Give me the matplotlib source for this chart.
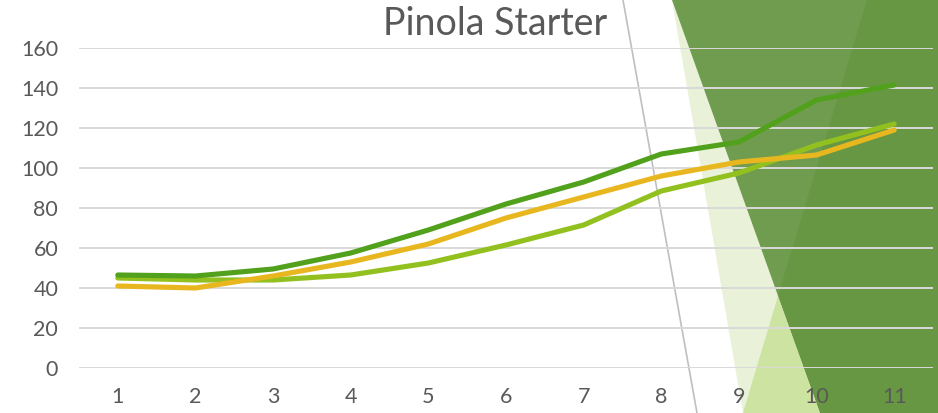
import matplotlib
matplotlib.use("Agg")
import matplotlib.pyplot as plt
from matplotlib.patches import Polygon
from matplotlib.lines import Line2D

# weekly readings for the three starter batches
weeks = [1, 2, 3, 4, 5, 6, 7, 8, 9, 10, 11]
batch_dark = [46.5, 46, 49.5, 57.5, 69, 82, 93, 107, 113, 134, 141.5]
batch_gold = [41, 40, 46, 53, 62, 75, 85.5, 96, 103, 106.5, 119]
batch_light = [45, 44, 44, 46.5, 52.5, 61.5, 71.5, 88.5, 97.5, 111.5, 122]
y_ticks = [0, 20, 40, 60, 80, 100, 120, 140, 160]

W, H = 938, 413
FONT = ["Lato", "DejaVu Sans"]
GREY = "#595959"

fig = plt.figure(figsize=(W / 100, H / 100), dpi=100)

# decorative backdrop, in pixel space
bg = fig.add_axes([0, 0, 1, 1], zorder=0)
bg.set_xlim(0, W)
bg.set_ylim(H, 0)
bg.axis("off")
bg.add_line(Line2D([623, 697], [0, H], color="#BFBFBF", lw=1.2))
bg.add_patch(Polygon([(672, 0), (743, H), (820, H)], closed=True,
                     facecolor="#E9F2D8", edgecolor="none"))
bg.add_patch(Polygon([(672, 0), (W, 0), (W, H), (820, H)], closed=True,
                     facecolor="#709C50", edgecolor="none"))
bg.add_patch(Polygon([(867, 0), (W, 0), (W, H), (820, H), (778, 296)], closed=True,
                     facecolor="#679742", edgecolor="none"))
bg.add_patch(Polygon([(778, 296), (820, H), (743, H)], closed=True,
                     facecolor="#CDE3A1", edgecolor="none"))

ax = fig.add_axes([79 / W, (H - 368) / H, 854 / W, 320 / H], zorder=1)
ax.patch.set_alpha(0)

for yv in y_ticks:
    ax.axhline(yv, color="#D9D9D9", lw=1.4, zorder=1)

ax.plot(weeks, batch_light, color="#92C01F", lw=3.7, solid_capstyle="round", zorder=3)
ax.plot(weeks, batch_gold, color="#E8B71F", lw=3.7, solid_capstyle="round", zorder=4)
ax.plot(weeks, batch_dark, color="#52A11C", lw=3.7, solid_capstyle="round", zorder=5)

ax.set_xlim(0.5, 11.5)
ax.set_ylim(0, 160)
ax.set_xticks(weeks)
ax.set_xticklabels([str(w) for w in weeks])
ax.set_yticks(y_ticks)
ax.set_yticklabels([str(v) for v in y_ticks])
ax.tick_params(length=0, colors=GREY, labelsize=15.5)
ax.tick_params(axis="x", pad=14)
ax.tick_params(axis="y", pad=15)
for lab in ax.get_xticklabels() + ax.get_yticklabels():
    lab.set_family(FONT)
for s in ax.spines.values():
    s.set_visible(False)

fig.text(495 / W, 1 - 24 / H, "Pinola Starter", ha="center", va="center",
         fontsize=27, color=GREY, family=FONT)

fig.savefig("out.png", dpi=100)
